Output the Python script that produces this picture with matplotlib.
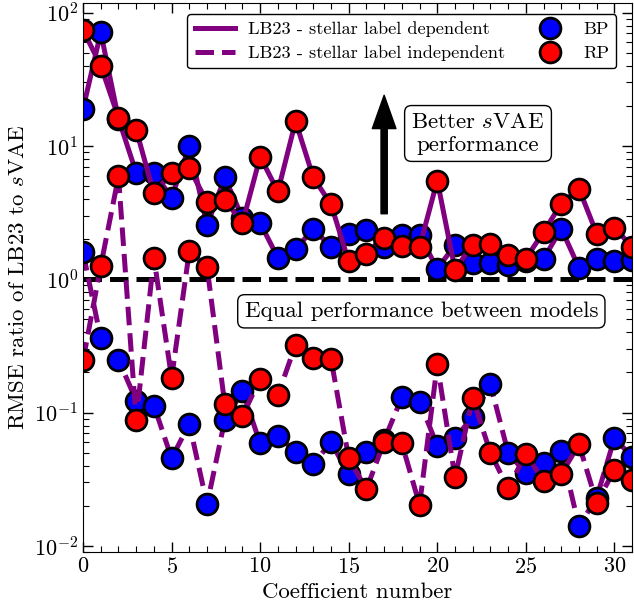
import numpy as np
import matplotlib
matplotlib.use("Agg")
import matplotlib.pyplot as plt
from matplotlib.lines import Line2D

# -------- style ----------
plt.rcParams['font.family'] = 'serif'
plt.rcParams['font.serif'] = ['cmr10']
plt.rcParams['mathtext.fontset'] = 'cm'
plt.rcParams['axes.formatter.use_mathtext'] = True

# -------- data -----------------------------------
coeff = np.arange(32)

bp_dep = [19, 71, 16, 6.3, 6.3, 4.1, 10, 2.54, 5.8, 2.9,
          2.64, 1.45, 1.69, 2.38, 1.75, 2.17, 2.33, 1.75, 2.14, 2.14,
          1.20, 1.80, 1.32, 1.32, 1.27, 1.38, 1.42, 2.40, 1.22, 1.43,
          1.36, 1.40]
rp_dep = [74, 40, 16.3, 13.2, 4.4, 6.3, 6.8, 3.8, 3.95, 2.64,
          8.3, 4.56, 15.3, 5.8, 3.65, 1.36, 1.56, 2.05, 1.78, 1.75,
          5.5, 1.18, 1.82, 1.85, 1.51, 1.43, 2.26, 3.69, 4.78, 2.20,
          2.44, 1.75]
bp_indep = [1.59, 0.36, 0.25, 0.123, 0.113, 0.0454, 0.0824, 0.0205, 0.0875, 0.145,
            0.0587, 0.067, 0.0506, 0.041, 0.060, 0.0344, 0.0506, 0.062, 0.130, 0.121,
            0.0564, 0.064, 0.093, 0.163, 0.050, 0.035, 0.042, 0.0515, 0.0140, 0.023,
            0.064, 0.0467]
rp_indep = [0.246, 1.26, 5.9, 0.0875, 1.45, 0.182, 1.63, 1.24, 0.116, 0.0946,
            0.179, 0.135, 0.324, 0.255, 0.253, 0.0454, 0.0266, 0.0605, 0.0587, 0.0203,
            0.230, 0.0327, 0.128, 0.050, 0.027, 0.0489, 0.0308, 0.0346, 0.0578, 0.0211,
            0.037, 0.0312]

PURPLE = 'purple'
LW = 3.6
MS = 15
MEW = 2

fig = plt.figure(figsize=(6.34, 6.07), dpi=100)
ax = fig.add_axes([0.131, 0.0906, 0.866, 0.9044])

ax.axhline(1, color='k', ls='--', lw=LW, zorder=1)

ax.plot(coeff, bp_dep, '-o', color=PURPLE, lw=LW, mfc='blue', mec='k', ms=MS, mew=MEW)
ax.plot(coeff, rp_dep, '-o', color=PURPLE, lw=LW, mfc='red', mec='k', ms=MS, mew=MEW)
ax.plot(coeff, bp_indep, '--o', color=PURPLE, lw=LW, mfc='blue', mec='k', ms=MS, mew=MEW)
ax.plot(coeff, rp_indep, '--o', color=PURPLE, lw=LW, mfc='red', mec='k', ms=MS, mew=MEW)

ax.set_yscale('log')
ax.set_xlim(0, 31)
ax.set_ylim(0.009, 118)
ax.set_xticks([0, 5, 10, 15, 20, 25, 30])
ax.set_xticks(np.arange(0, 32), minor=True)
ax.tick_params(which='both', direction='in', top=True, right=True, labelsize=16)
ax.tick_params(which='major', length=7, width=1)
ax.tick_params(which='minor', length=4, width=0.8)

ax.set_xlabel('Coefficient number', fontsize=16.5)
ax.set_ylabel('RMSE ratio of LB23 to $s$VAE', fontsize=16.5)

# annotations
ax.annotate('', xy=(17, 24), xytext=(17, 3.1),
            arrowprops=dict(facecolor='black', edgecolor='black', width=4.5,
                            headwidth=17, headlength=24))
ax.text(22.3, 12.4, 'Better $s$VAE\nperformance', fontsize=16.5, ha='center', va='center',
        bbox=dict(boxstyle='round', facecolor='white', edgecolor='black'))
ax.text(19.1, 0.575, 'Equal performance between models', fontsize=16.5, ha='center', va='center',
        bbox=dict(boxstyle='round', facecolor='white', edgecolor='black'))

# legend
handles = [
    Line2D([], [], color=PURPLE, lw=LW, ls='-'),
    Line2D([], [], color=PURPLE, lw=LW, ls='--'),
    Line2D([], [], ls='', marker='o', mfc='blue', mec='k', ms=MS, mew=MEW),
    Line2D([], [], ls='', marker='o', mfc='red', mec='k', ms=MS, mew=MEW),
]
labels = ['LB23 - stellar label dependent', 'LB23 - stellar label independent', 'BP', 'RP']
leg = ax.legend(handles, labels, ncol=2, loc='upper right', fontsize=13.2,
                frameon=True, framealpha=1, edgecolor='black',
                columnspacing=1.35, handlelength=2.2, handletextpad=0.7, borderpad=0.4,
                labelspacing=0.45, bbox_to_anchor=(0.988, 0.997))

fig.savefig('out.png', dpi=100)
